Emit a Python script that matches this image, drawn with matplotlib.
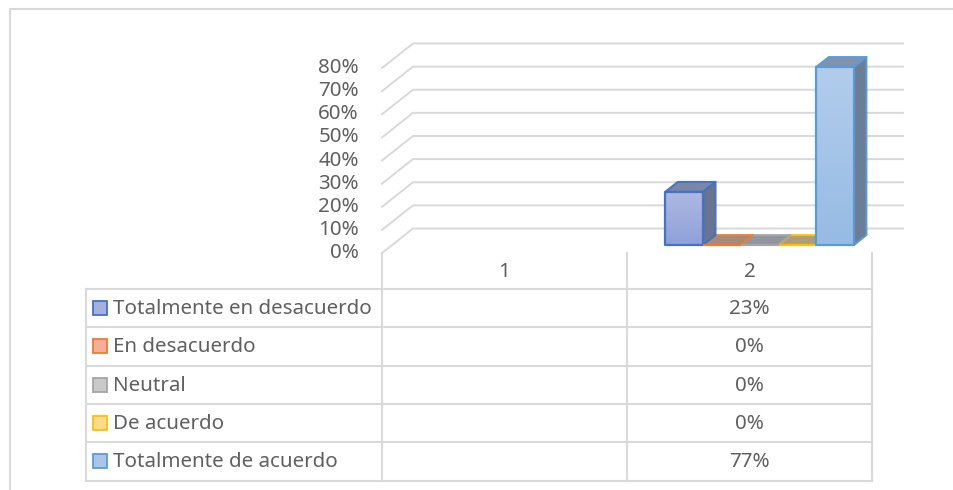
import numpy as np
import matplotlib.pyplot as plt
from matplotlib.patches import Polygon, Rectangle
from matplotlib.colors import to_rgb

plt.rcParams["font.family"] = ["Noto Sans", "DejaVu Sans"]

# data (category "1" has no values in the source table)
categories = ["1", "2"]
series_names = ["Totalmente en desacuerdo", "En desacuerdo", "Neutral",
                "De acuerdo", "Totalmente de acuerdo"]
values_cat1 = [np.nan, np.nan, np.nan, np.nan, np.nan]
values_cat2 = [0.23, 0.00, 0.00, 0.00, 0.77]
y_ticks = [0.0, 0.1, 0.2, 0.3, 0.4, 0.5, 0.6, 0.7, 0.8]

edge_colors = ["#4472C4", "#ED7D31", "#A5A5A5", "#FFC000", "#5B9BD5"]
face_top = ["#AEB9E2", "#F6BC97", "#D0D0D0", "#FFDE95", "#B2CDEC"]
face_bottom = ["#8EA1D9", "#F2A676", "#BDBDBD", "#FFD36E", "#96BBE4"]
key_colors = ["#A3B1DE", "#F4B096", "#C9C9C9", "#FFDA8A", "#A9C6EA"]

TEXT = "#606060"
GRID = "#D9D9D9"
FS = 14.8

W, H = 954, 490
fig = plt.figure(figsize=(W / 100, H / 100), dpi=100)


def box(left, top, right, bottom):
    return [left / W, 1 - bottom / H, (right - left) / W, (bottom - top) / H]


def blend(c, other, t):
    a = np.array(to_rgb(c))
    b = np.array(to_rgb(other))
    return tuple(a * (1 - t) + b * t)


# pixel axes for frame + data table
tab = fig.add_axes([0, 0, 1, 1])
tab.set_xlim(0, W)
tab.set_ylim(H, 0)
tab.axis("off")

# chart axes: x = category units, y = share
ax = fig.add_axes(box(382, 68, 872, 253))
ax.axis("off")

DX, DY = 0.1265, 0.106      # full depth offset in data units
d0, d1 = 0.33, 0.73         # bar depth range
group_w = 0.77
bw = group_w / len(series_names)


def proj(x, y, d):
    return (x + d * DX, y + d * DY)


# back wall grid + left diagonals
for t in y_ticks:
    ax.plot([0, DX, len(categories) + DX], [t, t + DY, t + DY],
            color=GRID, lw=1.4, clip_on=False, zorder=1)
    ax.text(-0.094, t, f"{t:.0%}", ha="right", va="center",
            fontsize=FS, color=TEXT)

# bars: tops first, then sides, then fronts
tops, sides, fronts = [], [], []
for c, vals in enumerate([values_cat1, values_cat2]):
    for i, v in enumerate(vals):
        if np.isnan(v):
            continue
        xl = c + 0.5 - group_w / 2 + i * bw
        xr = xl + bw
        tops.append((i, [proj(xl, v, d0), proj(xr, v, d0), proj(xr, v, d1), proj(xl, v, d1)]))
        sides.append((i, [proj(xr, 0, d0), proj(xr, 0, d1), proj(xr, v, d1), proj(xr, v, d0)]))
        fronts.append((i, v, [proj(xl, 0, d0), proj(xr, 0, d0), proj(xr, v, d0), proj(xl, v, d0)]))

for i, pts in tops:
    ax.add_patch(Polygon(pts, closed=True, fc=blend(face_top[i], "#323C50", 0.4),
                         ec=edge_colors[i], lw=1.4, clip_on=False, zorder=3, joinstyle="round"))
for i, pts in sides:
    ax.add_patch(Polygon(pts, closed=True, fc=blend(face_top[i], "#323C50", 0.55),
                         ec=edge_colors[i], lw=1.4, clip_on=False, zorder=4, joinstyle="round"))
for i, v, pts in fronts:
    poly = Polygon(pts, closed=True, fc="none", ec=edge_colors[i], lw=1.6,
                   clip_on=False, zorder=6, joinstyle="round")
    ax.add_patch(poly)
    if v > 0:
        grad = np.linspace(np.array(to_rgb(face_top[i])), np.array(to_rgb(face_bottom[i])), 64)
        grad = grad.reshape(64, 1, 3)
        xs = [p[0] for p in pts]
        ys = [p[1] for p in pts]
        im = ax.imshow(grad, extent=[min(xs), max(xs), min(ys), max(ys)],
                       aspect="auto", origin="upper", zorder=5, interpolation="bilinear")
        im.set_clip_path(poly)

ax.set_xlim(0, len(categories))
ax.set_ylim(0, 0.8)

# frame
tab.plot([10, 10, W], [H, 9, 9], color=GRID, lw=1.5)

# data table
col_edges = [382, 627, 872]
row_top, row_h = 289, 38.3
n = len(series_names)
for k in range(n + 1):
    y = row_top + k * row_h
    tab.plot([86, col_edges[-1]], [y, y], color=GRID, lw=1.5)
tab.plot([86, 86], [row_top, row_top + n * row_h], color=GRID, lw=1.5)
for x in col_edges:
    tab.plot([x, x], [253, row_top + n * row_h], color=GRID, lw=1.5)

col_centers = [(col_edges[j] + col_edges[j + 1]) / 2 for j in range(len(categories))]
for j, cat in enumerate(categories):
    tab.text(col_centers[j], 272, cat, ha="center", va="center", fontsize=FS, color=TEXT)

for i, name in enumerate(series_names):
    yc = row_top + (i + 0.5) * row_h
    tab.add_patch(Rectangle((93, yc - 7), 14, 14, fc=key_colors[i], ec=edge_colors[i], lw=1.3))
    tab.text(113, yc + 1, name, ha="left", va="center", fontsize=FS, color=TEXT)
    for j, vals in enumerate([values_cat1, values_cat2]):
        if not np.isnan(vals[i]):
            tab.text(col_centers[j], yc + 1, f"{vals[i]:.0%}", ha="center", va="center",
                     fontsize=FS, color=TEXT)

fig.savefig("out.png", dpi=100)
